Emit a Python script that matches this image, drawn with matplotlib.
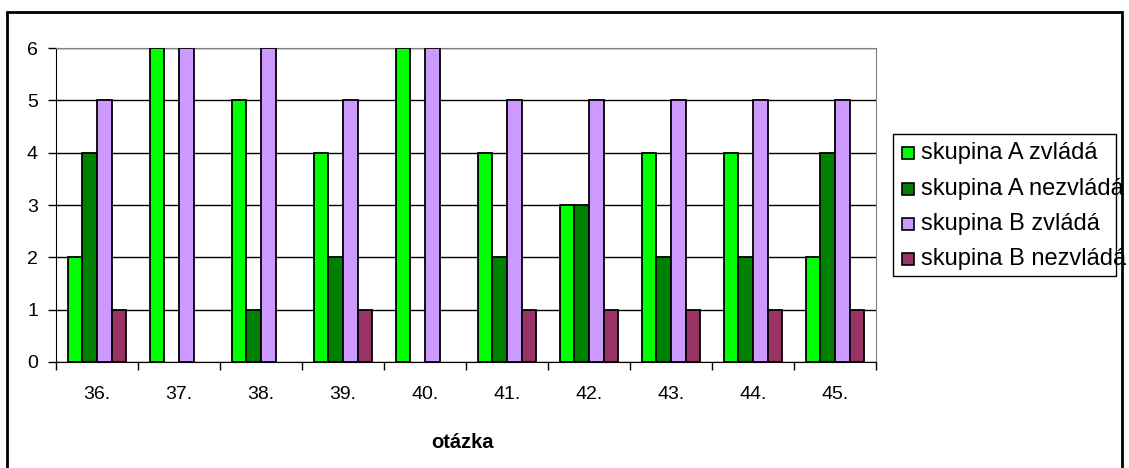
import matplotlib.pyplot as plt
import numpy as np
from matplotlib.patches import Rectangle

plt.rcParams['font.family'] = ['Liberation Sans', 'DejaVu Sans']

# Data ################################################################################################################
questions = ['36.', '37.', '38.', '39.', '40.', '41.', '42.', '43.', '44.', '45.']
a_ok = [2, 6, 5, 4, 6, 4, 3, 4, 4, 2]
a_fail = [4, 0, 1, 2, 0, 2, 3, 2, 2, 4]
b_ok = [5, 6, 6, 5, 6, 5, 5, 5, 5, 5]
b_fail = [1, 0, 0, 1, 0, 1, 1, 1, 1, 1]

series_names = ['skupina A zvládá', 'skupina A nezvládá', 'skupina B zvládá', 'skupina B nezvládá']
series_colors = ['#00FF00', '#008000', '#CC99FF', '#993366']
series_values = [a_ok, a_fail, b_ok, b_fail]

W, H = 1129, 468
fig = plt.figure(figsize=(W / 100, H / 100), dpi=100)
ax = fig.add_axes([56 / W, 1 - 362 / H, 820 / W, 314 / H])

x = np.arange(len(questions))
bar_w = 0.179
offsets = (np.arange(4) - 1.5) * bar_w

for vals, off, col, name in zip(series_values, offsets, series_colors, series_names):
    vals = np.array(vals, dtype=float)
    # zero values are left out entirely (no flat bar drawn)
    mask = vals > 0
    ax.bar(x[mask] + off, vals[mask], width=bar_w, color=col, edgecolor='black',
           linewidth=1.3, label=name, zorder=3)

ax.set_xlim(-0.5, len(questions) - 0.5)
ax.set_ylim(0, 6)
ax.set_yticks(range(0, 7))
ax.yaxis.grid(True, color='black', linewidth=1, zorder=0)
ax.set_axisbelow(True)

# category ticks sit between groups, labels centred under each group
ax.set_xticks(np.arange(-0.5, len(questions)), minor=False)
ax.set_xticklabels([])
ax.set_xticks(x, minor=True)
ax.set_xticklabels(questions, minor=True)
ax.tick_params(axis='x', which='major', direction='out', length=6, width=1, color='black')
ax.tick_params(axis='x', which='minor', length=0, pad=17, labelsize=14)
ax.tick_params(axis='y', direction='out', length=6, width=1, color='black', pad=7, labelsize=14)

for side in ['top', 'right']:
    ax.spines[side].set_color('#808080')
for side in ['left', 'bottom']:
    ax.spines[side].set_color('black')

fig.text(463 / W, 1 - 443 / H, 'otázka', ha='center', va='center',
         fontsize=14.5, fontweight='bold')

# Legend drawn by hand so the text can run over its frame ##############################################################
fig.patches.append(Rectangle((893 / W, 1 - 276 / H), (1116 - 893) / W, (276 - 134) / H,
                             transform=fig.transFigure, facecolor='white', edgecolor='black',
                             linewidth=1, zorder=1))
row_y = [153, 189, 224, 259]
for yy, col, name in zip(row_y, series_colors, series_names):
    fig.patches.append(Rectangle((902 / W, 1 - (yy + 6) / H), 12 / W, 12 / H,
                                 transform=fig.transFigure, facecolor=col, edgecolor='black',
                                 linewidth=1.2, zorder=2))
    fig.text(921 / W, 1 - yy / H, name, ha='left', va='center', fontsize=17, zorder=3)

# outer chart frame
fig.patches.append(Rectangle((7 / W, -0.05), (1122 - 7) / W, 1.05 - 12 / H,
                             transform=fig.transFigure, facecolor='none', edgecolor='black',
                             linewidth=2, zorder=5))

fig.savefig('out.png', dpi=100)
